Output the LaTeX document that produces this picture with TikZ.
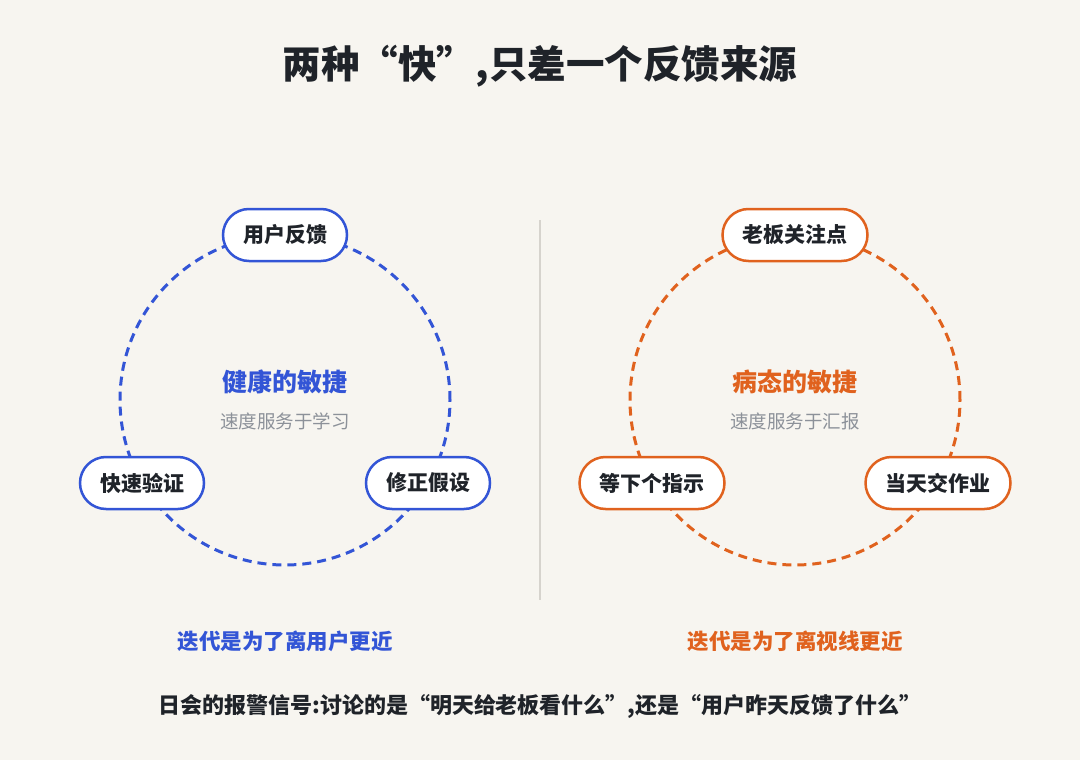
\documentclass[tikz,border=0pt]{standalone}
\usepackage{fontspec}
\setmainfont{Noto Sans CJK SC}
\definecolor{bg}{HTML}{F7F5F0}
\definecolor{ink}{HTML}{1F2329}
\definecolor{muted}{HTML}{8C9199}
\definecolor{blueA}{HTML}{3355D6}
\definecolor{orangeA}{HTML}{E0621E}
\definecolor{divider}{HTML}{D6D3CD}
\tikzset{
  pill/.style={draw=#1, line width=2.5pt, fill=white, rounded corners=26pt,
    minimum height=52pt, inner xsep=20pt, text=ink,
    font=\fontsize{21pt}{24pt}\selectfont\bfseries},
  loop/.style={draw=#1, line width=3pt, dash pattern=on 9pt off 6pt},
  heading/.style={font=\fontsize{25pt}{28pt}\selectfont\bfseries, text=#1},
  subline/.style={font=\fontsize{18.5pt}{22pt}\selectfont, text=muted},
  motto/.style={font=\fontsize{21.5pt}{24pt}\selectfont\bfseries, text=#1},
}
\begin{document}
\begin{tikzpicture}[x=1pt,y=-1pt]
\fill[bg] (0,0) rectangle (1080,760);
\useasboundingbox (0,0) rectangle (1080,760);
\node[font=\fontsize{38.5pt}{42pt}\selectfont\bfseries, text=ink] (title) at (540,66) {两种“快”,只差一个反馈来源};
% divider
\coordinate (dtop) at (540,220);
\coordinate (dbot) at (540,600);
\draw[divider, line width=2pt] (dtop) -- (dbot);
% left loop
\coordinate (lc) at (285,400);
\draw[loop=blueA] (lc) circle[radius=165pt];
\node[pill=blueA] (l1) at (285,235) {用户反馈};
\node[pill=blueA] (l2) at (142,483) {快速验证};
\node[pill=blueA] (l3) at (428,483) {修正假设};
\node[heading=blueA] (lh) at (285,382) {健康的敏捷};
\node[subline] (ls) at (285,421) {速度服务于学习};
\node[motto=blueA] (lm) at (285,641) {迭代是为了离用户更近};
% right loop
\coordinate (rc) at (795,400);
\draw[loop=orangeA] (rc) circle[radius=165pt];
\node[pill=orangeA] (r1) at (795,235) {老板关注点};
\node[pill=orangeA] (r2) at (652,483) {等下个指示};
\node[pill=orangeA] (r3) at (938,483) {当天交作业};
\node[heading=orangeA] (rh) at (795,382) {病态的敏捷};
\node[subline] (rs) at (795,421) {速度服务于汇报};
\node[motto=orangeA] (rm) at (795,641) {迭代是为了离视线更近};
% footer
\node[font=\fontsize{22pt}{25pt}\selectfont\bfseries, text=ink] (foot) at (540,706) {日会的报警信号:讨论的是“明天给老板看什么”,还是“用户昨天反馈了什么”};
\end{tikzpicture}
\end{document}
